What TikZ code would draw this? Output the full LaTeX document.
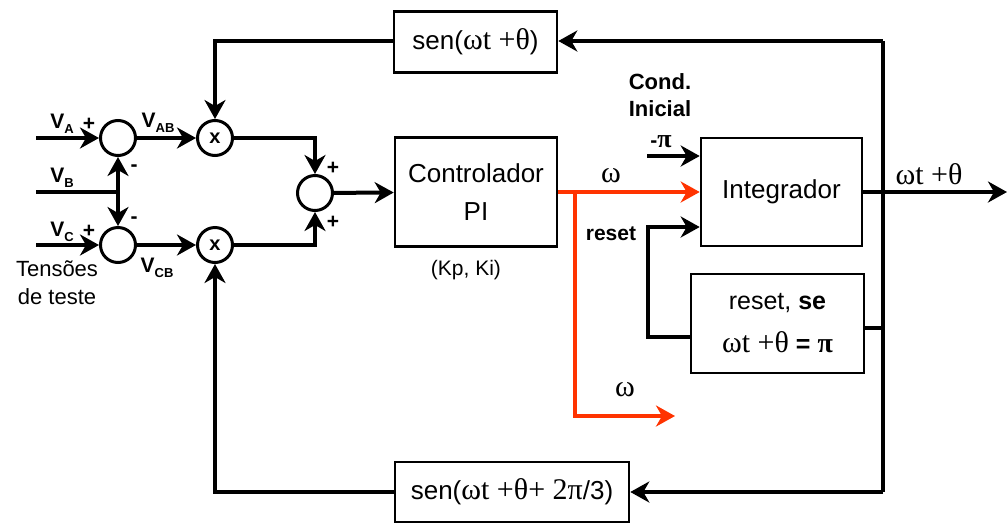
\documentclass[tikz,border=0pt]{standalone}
\usepackage{fontspec}
\setmainfont{Liberation Sans}
\newfontfamily\tms{Liberation Serif}
\usetikzlibrary{arrows.meta}
\definecolor{wred}{RGB}{255,51,0}
\newcommand{\gr}[1]{{\tms\fontsize{30}{30}\selectfont #1}}
\begin{document}
\begin{tikzpicture}[x=1pt,y=-1pt,
  sumc/.style={circle,draw,line width=3pt,minimum size=35pt,inner sep=0pt,font=\bfseries\fontsize{20}{20}\selectfont},
  blk/.style={draw,line width=2.6pt,align=center,inner sep=0pt,font=\fontsize{26}{38}\selectfont},
  wire/.style={line width=4pt},
  arr/.style={wire,-{Stealth[length=19pt,width=21pt,inset=6pt]}},
  lbl/.style={font=\bfseries\fontsize{21}{27}\selectfont,inner sep=0pt},
  txt/.style={font=\fontsize{22}{28}\selectfont,inner sep=0pt,align=center},
  gk/.style={font=\tms\fontsize{30}{30}\selectfont,inner sep=0pt}]
\useasboundingbox (0,0) rectangle (1007,523);
% circles
\node[sumc] (s1) at (118,138) {};
\node[sumc] (s2) at (118,245) {};
\node[sumc] (m1) at (215,138) {x};
\node[sumc] (m2) at (215,245) {x};
\node[sumc] (s3) at (315,193) {};
% blocks
\node[blk,minimum width=163pt,minimum height=61pt] (sen1) at (475.5,42) {sen(\gr{ωt +θ})};
\node[blk,minimum width=162pt,minimum height=109pt] (ctrl) at (476,192) {Controlador\\PI};
\node[blk,minimum width=161pt,minimum height=108pt] (integ) at (781.5,192) {Integrador};
\node[blk,minimum width=173pt,minimum height=99pt,font=\fontsize{25}{43}\selectfont] (rbox) at (777.5,323.5) {reset, \textbf{se}\\\gr{ωt +θ} \textbf{= {\tms\fontsize{28}{28}\selectfont π}}};
\node[blk,minimum width=234pt,minimum height=60pt] (sen2) at (512,492) {sen(\gr{ωt +θ+ 2π}/3)};
% coordinates
\coordinate (va) at (36,138);
\coordinate (vb) at (36,192);
\coordinate (jb) at (118,192);
\coordinate (vc) at (36,245);
\coordinate (j1) at (315,138);
\coordinate (jw) at (575,192);
\coordinate (wc) at (575,416);
\coordinate (we) at (675,416);
\coordinate (ci) at (647,156);
\coordinate (rs) at (648,227);
\coordinate (rb) at (648,337);
\coordinate (jo) at (883,192);
\coordinate (jt) at (883,41);
\coordinate (jr) at (883,328);
\coordinate (jd) at (883,492);
\coordinate (out) at (1007,192);
% wires
\draw[arr] (va) -- (s1);
\draw[wire] (vb) -- (jb);
\draw[arr] (jb) -- (s1);
\draw[arr] (jb) -- (s2);
\draw[arr] (vc) -- (s2);
\draw[arr] (s1) -- (m1);
\draw[arr] (s2) -- (m2);
\draw[arr] (m1.east) -- (j1) -- (s3.north);
\draw[arr] (m2.east) -| (s3.south);
\draw[arr] (s3) -- (ctrl);
\draw[arr,wred] (ctrl.east) -- (integ.west);
\draw[arr,wred] (jw) -- (wc) -- (we);
\draw[arr] (ci) -- (ci -| integ.west);
\draw[arr] (rb -| rbox.west) -- (rb) -- (rs) -- (rs -| integ.west);
\draw[arr] (integ.east) -- (out);
\draw[wire] (jt) -- (jd);
\draw[arr] (jt) -- (jt -| sen1.east);
\draw[arr] (sen1.west |- jt) -| (m1.north);
\draw[wire] (jr) -- (jr -| rbox.east);
\draw[arr] (jd) -- (jd -| sen2.east);
\draw[arr] (sen2.west |- jd) -| (m2.south);
% labels
\node[lbl] (la) at (62,124) {V\raisebox{-5pt}{\fontsize{13}{13}\selectfont A}};
\node[lbl] (pa) at (89,124) {+};
\node[lbl] (lb) at (62,178) {V\raisebox{-5pt}{\fontsize{13}{13}\selectfont B}};
\node[lbl] (mb1) at (134,168) {-};
\node[lbl] (mb2) at (134,220) {-};
\node[lbl] (lc) at (62,232) {V\raisebox{-5pt}{\fontsize{13}{13}\selectfont C}};
\node[lbl] (pc) at (89,231) {+};
\node[lbl] (lab) at (158,123) {V\raisebox{-5pt}{\fontsize{13}{13}\selectfont AB}};
\node[lbl] (lcb) at (157,268) {V\raisebox{-5pt}{\fontsize{13}{13}\selectfont CB}};
\node[txt] (tt) at (57,283) {Tensões\\de teste};
\node[lbl] (p1) at (333,168) {+};
\node[lbl] (p2) at (333,222) {+};
\node[txt,font=\fontsize{21}{26}\selectfont] (kp) at (466,270) {(Kp, Ki)};
\node[lbl,align=center,font=\bfseries\fontsize{22}{27}\selectfont] (cond) at (660,95) {Cond.\\Inicial};
\node[lbl] (mpi) at (661,142) {-{\tms\bfseries\fontsize{26}{26}\selectfont π}};
\node[gk] (w1) at (611,176) {ω};
\node[lbl] (rst) at (611,234) {reset};
\node[gk] (w2) at (625,390) {ω};
\node[gk] (wo) at (929,174) {ωt +θ};
\end{tikzpicture}
\end{document}
